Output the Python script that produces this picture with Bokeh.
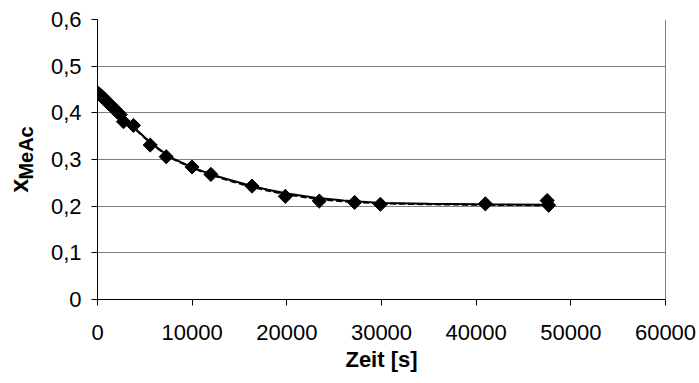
import math
from bokeh.plotting import figure
from bokeh.layouts import row
from bokeh.models import FixedTicker, CustomJSTickFormatter, Span
from bokeh.core.properties import value
from bokeh.embed import file_html
from bokeh.resources import INLINE

# measured data (time in s, mole fraction of MeAc)
time_s = [0, 200, 400, 650, 900, 1200, 1500, 1800, 2100, 2400, 2750, 3800,
          5570, 7260, 9980, 11980, 16320, 19840, 23430, 27160, 29880, 40970,
          47500, 47660]
x_meac = [0.443, 0.440, 0.436, 0.431, 0.426, 0.420, 0.414, 0.408, 0.402, 0.396,
          0.381, 0.373, 0.331, 0.306, 0.284, 0.268, 0.243, 0.221, 0.211, 0.208,
          0.204, 0.205, 0.212, 0.202]

# model curves
fit_time = [0, 1000, 2000, 3000, 4000, 5000, 6000, 7000, 8000, 10000, 12000,
            14000, 16000, 18000, 20000, 23000, 26000, 30000, 35000, 40000, 47500]
fit_solid = [0.443, 0.424, 0.405, 0.385, 0.366, 0.347, 0.330, 0.315, 0.302,
             0.283, 0.268, 0.256, 0.245, 0.235, 0.227, 0.218, 0.212, 0.207,
             0.205, 0.204, 0.203]
fit_dashed = [0.443, 0.423, 0.404, 0.384, 0.365, 0.346, 0.329, 0.314, 0.301,
              0.282, 0.267, 0.254, 0.243, 0.233, 0.225, 0.216, 0.210, 0.206,
              0.204, 0.203, 0.202]

x_ticks = [0, 10000, 20000, 30000, 40000, 50000, 60000]
y_ticks = [0, 0.1, 0.2, 0.3, 0.4, 0.5, 0.6]
x_title = "Zeit [s]"
y_title_main = "x"
y_title_sub = "MeAc"

FONT = "Liberation Sans"
TOTAL_W, TOTAL_H = 699, 383
LEFT_W = 40

# narrow panel holding the rotated y-axis title (x with subscript MeAc)
lab = figure(width=LEFT_W, height=TOTAL_H, x_range=(0, LEFT_W),
             y_range=(0, TOTAL_H), x_axis_type=None, y_axis_type=None,
             output_backend="svg", toolbar_location=None,
             min_border=0)
lab.outline_line_color = None
lab.background_fill_color = "white"
lab.border_fill_color = "white"
lab.grid.visible = False
lab.text(x=[18.7], y=[146], text=[y_title_main], angle=math.pi / 2,
         text_font=value(FONT), text_font_size="25px",
         text_font_style="bold", text_color="black",
         text_align="left", text_baseline="alphabetic")
lab.text(x=[25], y=[164], text=[y_title_sub], angle=math.pi / 2,
         text_font=value(FONT), text_font_size="20px",
         text_font_style="bold", text_color="black",
         text_align="left", text_baseline="alphabetic")

p = figure(width=TOTAL_W - LEFT_W, height=TOTAL_H, x_range=(0, 60000),
           y_range=(0, 0.6), output_backend="svg", toolbar_location=None,
           min_border_left=97 - LEFT_W, min_border_right=34,
           min_border_top=19, min_border_bottom=84)
p.background_fill_color = "white"
p.border_fill_color = "white"
p.outline_line_color = None

p.xgrid.grid_line_color = None
p.ygrid.grid_line_color = "#808080"
p.ygrid.grid_line_width = 1

p.xaxis.ticker = FixedTicker(ticks=x_ticks)
p.yaxis.ticker = FixedTicker(ticks=y_ticks)
p.yaxis.formatter = CustomJSTickFormatter(
    code="return tick == 0 ? '0' : tick.toFixed(1).replace('.', ',');")
p.xaxis.formatter = CustomJSTickFormatter(code="return tick.toFixed(0);")

for ax in (p.xaxis[0], p.yaxis[0]):
    ax.axis_line_color = "black"
    ax.major_tick_line_color = "black"
    ax.minor_tick_line_color = None
    ax.major_tick_in = 0
    ax.major_tick_out = 6
    ax.major_label_text_font = FONT
    ax.major_label_text_font_size = "22px"
    ax.major_label_text_color = "black"

p.xaxis.major_label_standoff = 19
p.yaxis.major_label_standoff = 10
p.xaxis.axis_label = x_title
p.xaxis.axis_label_text_font = FONT
p.xaxis.axis_label_text_font_size = "22px"
p.xaxis.axis_label_text_font_style = "bold"
p.xaxis.axis_label_text_color = "black"
p.xaxis.axis_label_standoff = 4

p.add_layout(Span(location=60000, dimension="height", line_color="black",
                  line_width=1))

p.line(fit_time, fit_solid, line_color="black", line_width=2)
p.line(fit_time, fit_dashed, line_color="black", line_width=2,
       line_dash="6 3")
p.scatter(time_s, x_meac, marker="square", angle=math.pi / 4, size=10,
          fill_color="black", line_color="black")

layout = row(lab, p, spacing=0)
open("out.html", "w").write(file_html(layout, INLINE))
